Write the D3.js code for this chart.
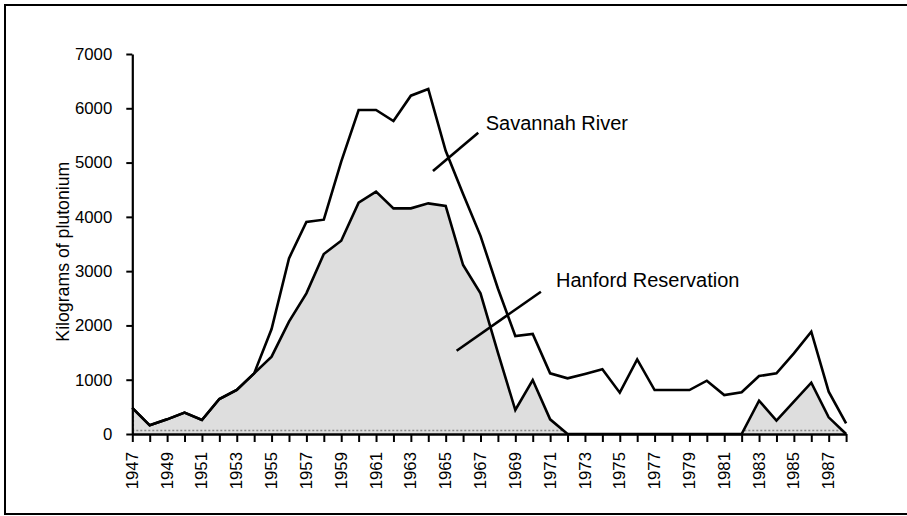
<!DOCTYPE html>
<html>
<head>
<meta charset="utf-8">
<script src="https://cdn.jsdelivr.net/npm/d3@7"></script>
<style>
  body { margin: 0; background: #fff; }
  svg { display: block; font-family: "Liberation Sans", Arial, Helvetica, sans-serif; }
</style>
</head>
<body>
<div id="chart"></div>
<script>
// Years on the x axis
const years = d3.range(1947, 1989);

// Kilograms of plutonium produced per year
const hanford = [
  480, 160, 270, 395, 258, 645, 810, 1117, 1424, 2069,
  2591, 3316, 3561, 4261, 4464, 4157, 4157, 4249, 4200, 3113,
  2591, 1500, 442, 995, 270, 0, 0, 0, 0, 0,
  0, 0, 0, 0, 0, 0, 614, 246, 596, 946,
  307, 0
];
const savannahRiver = [
  0, 0, 0, 0, 0, 0, 0, 0, 510, 1167,
  1314, 632, 1455, 1707, 1504, 1608, 2075, 2106, 1018, 1307,
  1059, 1180, 1363, 847, 847, 1025, 1105, 1191, 761, 1375,
  810, 810, 810, 982, 718, 768, 454, 871, 890, 939,
  473, 196
];
const yTicks = [0, 1000, 2000, 3000, 4000, 5000, 6000, 7000];
const labelYears = years.filter(y => (y - 1947) % 2 === 0 && y < 1988);

const width = 907, height = 516;

const svg = d3.select('#chart')
  .append('svg')
  .attr('width', width)
  .attr('height', height);

// frame (right side runs off the page like in the original)
svg.append('rect')
  .attr('x', 5).attr('y', 5)
  .attr('width', 960).attr('height', 509)
  .attr('fill', 'none')
  .attr('stroke', '#000')
  .attr('stroke-width', 2);

const x = d3.scaleLinear().domain([1947, 1988]).range([132.3, 846.1]);
const y = d3.scaleLinear().domain([0, 7000]).range([434, 54]);

const rows = years.map((yr, i) => ({ year: yr, hanford: hanford[i], savannah: savannahRiver[i] }));
const stacked = d3.stack().keys(['hanford', 'savannah'])(rows);
const hanSeries = stacked[0];
const totSeries = stacked[1];

// Hanford shaded area
const area = d3.area()
  .x(d => x(d.data.year))
  .y0(y(0))
  .y1(d => y(d[1]));

svg.append('clipPath').attr('id', 'hanClip')
  .append('path').attr('d', area(hanSeries));

svg.append('path')
  .attr('d', area(hanSeries))
  .attr('fill', '#dedede');

// dotted outline of the fill
const dots = svg.append('g').attr('clip-path', 'url(#hanClip)')
  .attr('fill', 'none')
  .attr('stroke', '#888')
  .attr('stroke-width', 1.5)
  .attr('stroke-dasharray', '2,2');
dots.append('line')
  .attr('x1', x(1947)).attr('x2', x(1988))
  .attr('y1', y(0) - 3.5).attr('y2', y(0) - 3.5);
dots.append('line')
  .attr('x1', x(1947) + 1).attr('x2', x(1947) + 1)
  .attr('y1', y(0)).attr('y2', y(hanford[0]));

const line = d3.line()
  .x(d => x(d.data.year))
  .y(d => y(d[1]));

svg.append('path')
  .attr('d', line(hanSeries))
  .attr('fill', 'none')
  .attr('stroke', '#000')
  .attr('stroke-width', 2.6);

svg.append('path')
  .attr('d', line(totSeries))
  .attr('fill', 'none')
  .attr('stroke', '#000')
  .attr('stroke-width', 2.6);

// y axis
const yAxis = svg.append('g')
  .attr('transform', `translate(${x(1947)},0)`)
  .call(d3.axisLeft(y).tickValues(yTicks).tickSize(6).tickSizeOuter(0).tickPadding(14).tickFormat(d3.format('d')));
yAxis.select('.domain').attr('stroke-width', 2.2);
yAxis.selectAll('.tick line').attr('stroke-width', 2);
yAxis.selectAll('text')
  .attr('font-size', 16.8)
  .attr('font-family', '"Liberation Sans", Arial, sans-serif')
  .attr('fill', '#000');

// x axis
const xAxis = svg.append('g')
  .attr('transform', `translate(0,${y(0)})`)
  .call(d3.axisBottom(x).tickValues(years).tickSize(8).tickSizeOuter(0)
    .tickFormat(d => labelYears.includes(d) ? d : ''));
xAxis.select('.domain').attr('stroke-width', 2.6);
xAxis.selectAll('.tick line').attr('stroke-width', 2);
xAxis.selectAll('text')
  .attr('font-size', 16.8)
  .attr('font-family', '"Liberation Sans", Arial, sans-serif')
  .attr('fill', '#000')
  .attr('transform', 'rotate(-90)')
  .attr('text-anchor', 'end')
  .attr('x', -18)
  .attr('y', 0)
  .attr('dy', '0.3em');

// y title
svg.append('text')
  .attr('transform', `translate(69,${(161.7 + 341.7) / 2}) rotate(-90)`)
  .attr('text-anchor', 'middle')
  .attr('font-size', 17.7)
  .attr('fill', '#000')
  .text('Kilograms of plutonium');

// annotations
svg.append('line')
  .attr('x1', x(1964.27)).attr('y1', y(4844))
  .attr('x2', x(1966.87)).attr('y2', y(5550))
  .attr('stroke', '#000').attr('stroke-width', 2.6);
svg.append('text')
  .attr('x', x(1967.3)).attr('y', y(5600))
  .attr('font-size', 20)
  .attr('fill', '#000')
  .text('Savannah River');

svg.append('line')
  .attr('x1', x(1965.63)).attr('y1', y(1534))
  .attr('x2', x(1970.47)).attr('y2', y(2621))
  .attr('stroke', '#000').attr('stroke-width', 2.6);
svg.append('text')
  .attr('x', x(1971.34)).attr('y', y(2713))
  .attr('font-size', 20)
  .attr('fill', '#000')
  .text('Hanford Reservation');
</script>
</body>
</html>
